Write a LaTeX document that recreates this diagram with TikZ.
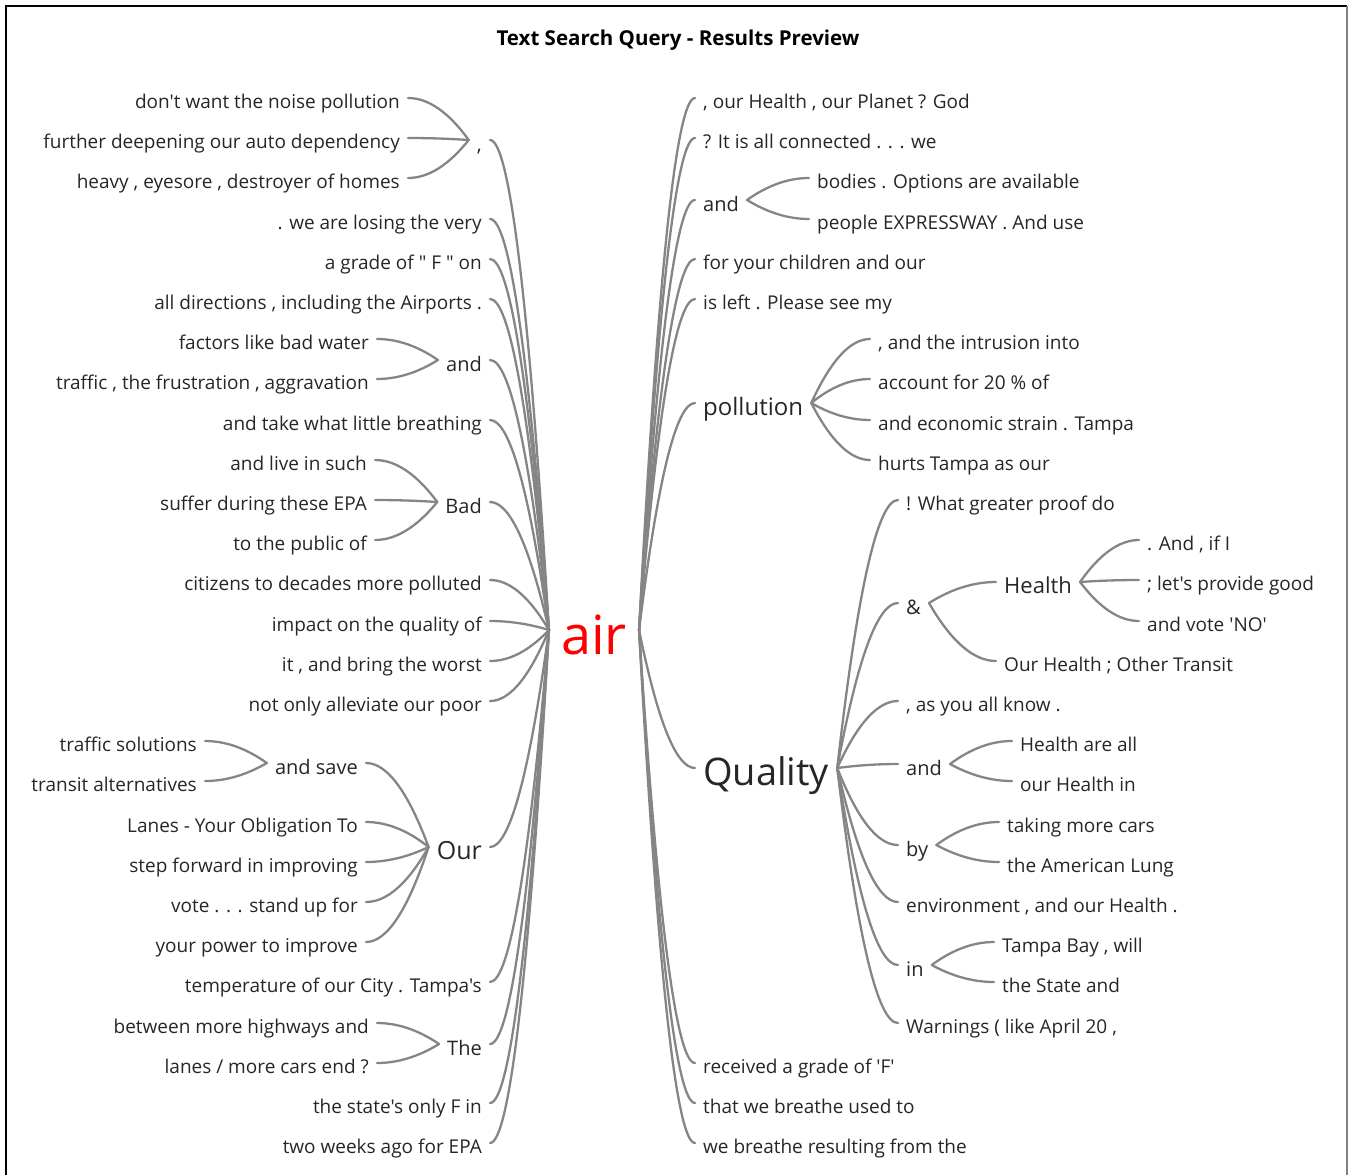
\documentclass[tikz,border=0pt]{standalone}
\usepackage{fontspec}
\setmainfont{Open Sans}[Ligatures=TeXOff]
\usetikzlibrary{calc}
\definecolor{linkgray}{rgb}{0.52,0.52,0.52}
\definecolor{wordgray}{rgb}{0.15,0.15,0.15}

\begin{document}
\begin{tikzpicture}[x=1pt, y=-1pt, word/.style = {inner xsep=8pt, inner ysep=0pt, text depth=0pt, text=wordgray, font=\fontsize{19}{22}\selectfont, text height=21pt}, mid/.style = {word, font=\fontsize{20}{24}\selectfont, text height=22pt}, health/.style = {word, font=\fontsize{22}{26}\selectfont, text height=22pt}, big/.style = {word, font=\fontsize{24}{30}\selectfont, text height=24pt}, huge/.style = {word, font=\fontsize{38}{44}\selectfont, text height=34pt}, rootword/.style = {word, inner xsep=12pt, text=red, font=\fontsize{54}{60}\selectfont, text height=48.6pt}, title/.style = {font=\bfseries\fontsize{20.5}{24}\selectfont, text=black}, link/.style = {draw=linkgray, line width=2.3pt, line cap=round, to path={let \p1=(\tikztostart), \p2=(\tikztotarget) in .. controls ({\x1+(\x2-\x1)/3},{\y1+2*(\y2-\y1)/3}) and ({\x2+(\x1-\x2)/3},\y2) .. (\tikztotarget)}}]
	\useasboundingbox (0,0) rectangle (1349,1175);
	\draw[line width=2pt] (6,1176) -- (6,6) -- (1347,6);
	\draw[gray, line width=2pt] (1347,6) -- (1347,1176);
	\node[title] (head) at (678,40) {Text Search Query - Results Preview};
	\node[rootword] (air) at (594,630) {air};
	\node[word, anchor=east] (noise) at (408,98) {don't want the noise pollution};
	\node[word, anchor=east] (deepen) at (408,138) {further deepening our auto dependency};
	\node[word, anchor=east] (eyesore) at (408,178) {heavy , eyesore , destroyer of homes};
	\node[mid, anchor=east] (comma) at (490,140) {,};
	\node[word, anchor=east] (losing) at (490,219) {. we are losing the very};
	\node[word, anchor=east] (gradeF) at (490,259) {a grade of " F " on};
	\node[word, anchor=east] (directions) at (490,299) {all directions , including the Airports .};
	\node[word, anchor=east] (water) at (377,339) {factors like bad water};
	\node[word, anchor=east] (frustration) at (377,379) {traffic , the frustration , aggravation};
	\node[mid, anchor=east] (andL) at (490,360) {and};
	\node[word, anchor=east] (breathing) at (490,420) {and take what little breathing};
	\node[word, anchor=east] (livein) at (375,460) {and live in such};
	\node[word, anchor=east] (suffer) at (375,500) {suffer during these EPA};
	\node[word, anchor=east] (public) at (375,540) {to the public of};
	\node[mid, anchor=east] (bad) at (490,502) {Bad};
	\node[word, anchor=east] (citizens) at (490,580) {citizens to decades more polluted};
	\node[word, anchor=east] (impact) at (490,621) {impact on the quality of};
	\node[word, anchor=east] (worst) at (490,661) {it , and bring the worst};
	\node[word, anchor=east] (alleviate) at (490,701) {not only alleviate our poor};
	\node[word, anchor=east] (solutions) at (205,741) {traffic solutions};
	\node[word, anchor=east] (alternatives) at (205,781) {transit alternatives};
	\node[mid, anchor=east] (andsave) at (366,763) {and save};
	\node[word, anchor=east] (lanes) at (366,822) {Lanes - Your Obligation To};
	\node[word, anchor=east] (stepfwd) at (366,862) {step forward in improving};
	\node[word, anchor=east] (vote) at (366,902) {vote . . . stand up for};
	\node[word, anchor=east] (power) at (366,942) {your power to improve};
	\node[big, font=\fontsize{25}{30}\selectfont, anchor=east] (our) at (490,847) {Our};
	\node[word, anchor=east] (temperature) at (490,982) {temperature of our City . Tampa's};
	\node[word, anchor=east] (highways) at (377,1023) {between more highways and};
	\node[word, anchor=east] (morecars) at (377,1063) {lanes / more cars end ?};
	\node[mid, anchor=east] (the) at (490,1044) {The};
	\node[word, anchor=east] (stateF) at (490,1103) {the state's only F in};
	\node[word, anchor=east] (twoweeks) at (490,1143) {two weeks ago for EPA};
	\node[word, anchor=west] (planet) at (695,98) {, our Health , our Planet ? God};
	\node[word, anchor=west] (connected) at (695,138) {? It is all connected . . . we};
	\node[word, anchor=west] (bodies) at (809,178) {bodies . Options are available};
	\node[word, anchor=west] (people) at (809,219) {people EXPRESSWAY . And use};
	\node[mid, anchor=west] (andR) at (695,200) {and};
	\node[word, anchor=west] (children) at (695,259) {for your children and our};
	\node[word, anchor=west] (isleft) at (695,299) {is left . Please see my};
	\node[word, anchor=west] (intrusion) at (870,339) {, and the intrusion into};
	\node[word, anchor=west] (account) at (870,379) {account for 20 \% of};
	\node[word, anchor=west] (strain) at (870,420) {and economic strain . Tampa};
	\node[word, anchor=west] (hurts) at (870,460) {hurts Tampa as our};
	\node[big, anchor=west] (pollution) at (695,403) {pollution};
	\node[word, anchor=west] (proof) at (898,500) {! What greater proof do};
	\node[word, anchor=west] (andif) at (1139,540) {. And , if I};
	\node[word, anchor=west] (provide) at (1139,580) {; let's provide good};
	\node[word, anchor=west] (voteno) at (1139,621) {and vote 'NO'};
	\node[health, anchor=west] (health) at (996,582) {Health};
	\node[word, anchor=west] (transit) at (996,661) {Our Health ; Other Transit};
	\node[mid, anchor=west] (amp) at (898,603) {\&};
	\node[word, anchor=west] (youknow) at (898,701) {, as you all know .};
	\node[word, anchor=west] (healthall) at (1012,741) {Health are all};
	\node[word, anchor=west] (healthin) at (1012,781) {our Health in};
	\node[mid, anchor=west] (andQ) at (898,764) {and};
	\node[word, anchor=west] (cars) at (999,822) {taking more cars};
	\node[word, anchor=west] (lung) at (999,862) {the American Lung};
	\node[mid, anchor=west] (by) at (898,845) {by};
	\node[word, anchor=west] (environment) at (898,902) {environment , and our Health .};
	\node[word, anchor=west] (tampabay) at (994,942) {Tampa Bay , will};
	\node[word, anchor=west] (state) at (994,982) {the State and};
	\node[mid, anchor=west] (in) at (898,965) {in};
	\node[word, anchor=west] (warnings) at (898,1023) {Warnings ( like April 20 ,};
	\node[huge, anchor=west] (quality) at (695,768) {Quality};
	\node[word, anchor=west] (received) at (695,1063) {received a grade of 'F'};
	\node[word, anchor=west] (breathe) at (695,1103) {that we breathe used to};
	\node[word, anchor=west] (resulting) at (695,1143) {we breathe resulting from the};
	\draw[link] (air.west) edge (comma.east) edge (losing.east) edge (gradeF.east) edge (directions.east) edge (andL.east) edge (breathing.east) edge (bad.east) edge (citizens.east) edge (impact.east) edge (worst.east) edge (alleviate.east) edge (our.east) edge (temperature.east) edge (the.east) edge (stateF.east) edge (twoweeks.east);
	\draw[link] (comma.west) edge (noise.east) edge (deepen.east) edge (eyesore.east);
	\draw[link] (andL.west) edge (water.east) edge (frustration.east);
	\draw[link] (bad.west) edge (livein.east) edge (suffer.east) edge (public.east);
	\draw[link] (our.west) edge (andsave.east) edge (lanes.east) edge (stepfwd.east) edge (vote.east) edge (power.east);
	\draw[link] (andsave.west) edge (solutions.east) edge (alternatives.east);
	\draw[link] (the.west) edge (highways.east) edge (morecars.east);
	\draw[link] (air.east) edge (planet.west) edge (connected.west) edge (andR.west) edge (children.west) edge (isleft.west) edge (pollution.west) edge (quality.west) edge (received.west) edge (breathe.west) edge (resulting.west);
	\draw[link] (andR.east) edge (bodies.west) edge (people.west);
	\draw[link] (pollution.east) edge (intrusion.west) edge (account.west) edge (strain.west) edge (hurts.west);
	\draw[link] (quality.east) edge (proof.west) edge (amp.west) edge (youknow.west) edge (andQ.west) edge (by.west) edge (environment.west) edge (in.west) edge (warnings.west);
	\draw[link] (amp.east) edge (health.west) edge (transit.west);
	\draw[link] (health.east) edge (andif.west) edge (provide.west) edge (voteno.west);
	\draw[link] (andQ.east) edge (healthall.west) edge (healthin.west);
	\draw[link] (by.east) edge (cars.west) edge (lung.west);
	\draw[link] (in.east) edge (tampabay.west) edge (state.west);
\end{tikzpicture}
\end{document}
